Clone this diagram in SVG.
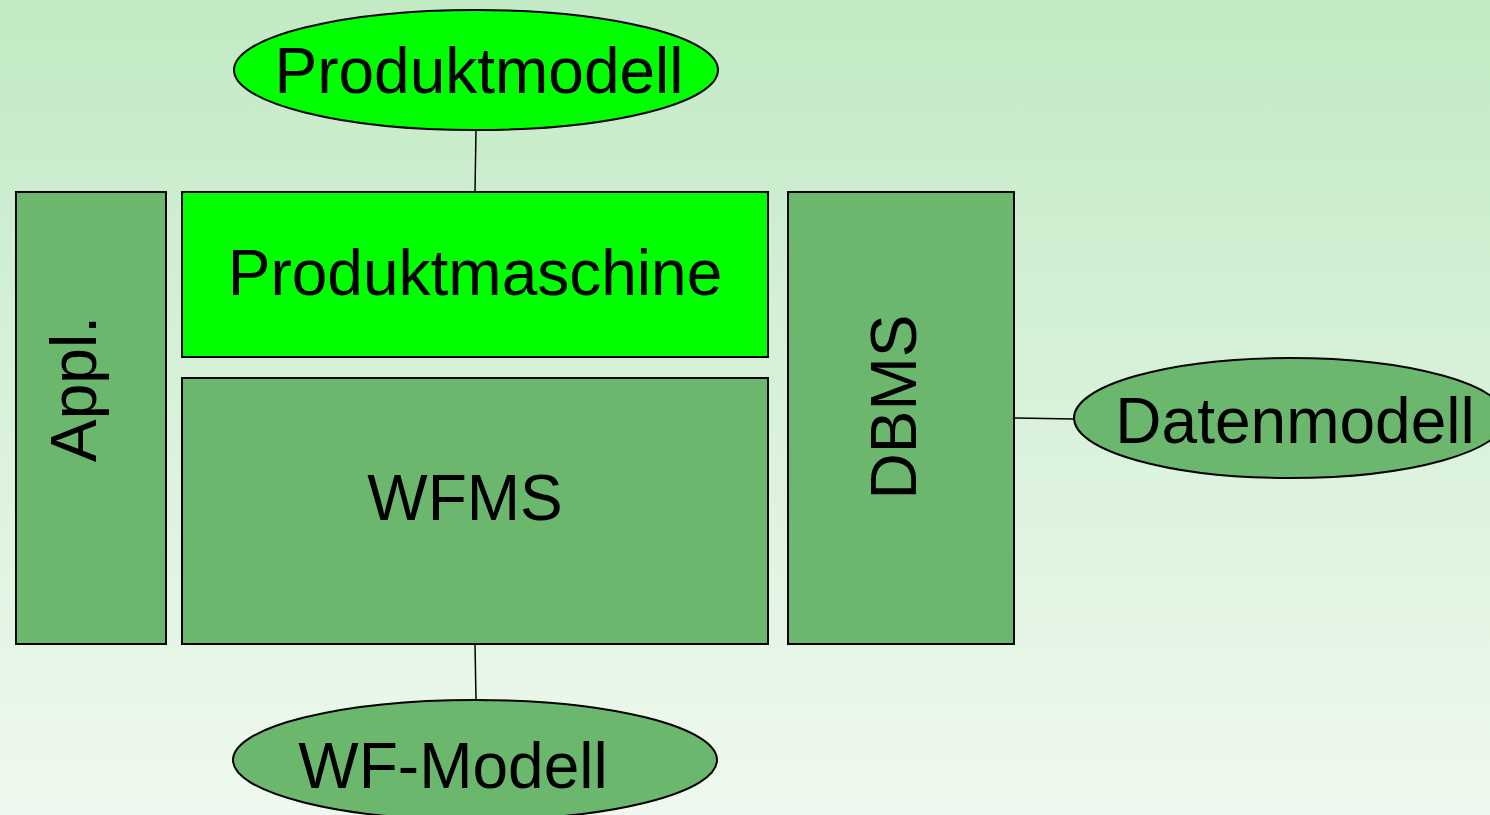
<svg xmlns="http://www.w3.org/2000/svg" width="1490" height="815" viewBox="0 0 1490 815">
  <defs>
    <linearGradient id="bg" x1="0" y1="0" x2="0" y2="1">
      <stop offset="0" stop-color="#c2eac4"/>
      <stop offset="1" stop-color="#eff9ef"/>
    </linearGradient>
  </defs>
  <style>
    .box { fill: #6bb76d; stroke: #000; stroke-width: 2; }
    .hot { fill: #00ff00; stroke: #000; stroke-width: 2; }
    .link { stroke: #000; stroke-width: 1.5; fill: none; }
    .lbl { font-family: "Liberation Sans", Arial, sans-serif; font-size: 64px; fill: #000; text-anchor: middle; }
  </style>
  <rect width="1490" height="815" fill="url(#bg)"/>

  <g id="connectors">
    <line class="link" x1="476" y1="130" x2="475" y2="192"/>
    <line class="link" x1="475" y1="644" x2="476" y2="700"/>
    <line class="link" x1="1014" y1="418" x2="1074" y2="419"/>
  </g>

  <g id="produktmodell">
    <ellipse class="hot" cx="476" cy="70" rx="242" ry="60"/>
    <text class="lbl" x="479" y="93">Produktmodell</text>
  </g>

  <g id="appl">
    <rect class="box" x="16" y="192" width="150" height="452"/>
    <text class="lbl" transform="translate(96,389) rotate(-90)">Appl.</text>
  </g>

  <g id="produktmaschine">
    <rect class="hot" x="182" y="192" width="586" height="165"/>
    <text class="lbl" x="475" y="295">Produktmaschine</text>
  </g>

  <g id="wfms">
    <rect class="box" x="182" y="378" width="586" height="266"/>
    <text class="lbl" x="465" y="520">WFMS</text>
  </g>

  <g id="dbms">
    <rect class="box" x="788" y="192" width="226" height="452"/>
    <text class="lbl" transform="translate(916,407) rotate(-90)">DBMS</text>
  </g>

  <g id="datenmodell">
    <ellipse class="box" cx="1290" cy="418" rx="216" ry="60"/>
    <text class="lbl" x="1295" y="443">Datenmodell</text>
  </g>

  <g id="wf-modell">
    <ellipse class="box" cx="475" cy="760" rx="242" ry="60"/>
    <text class="lbl" x="453" y="788">WF-Modell</text>
  </g>
</svg>
